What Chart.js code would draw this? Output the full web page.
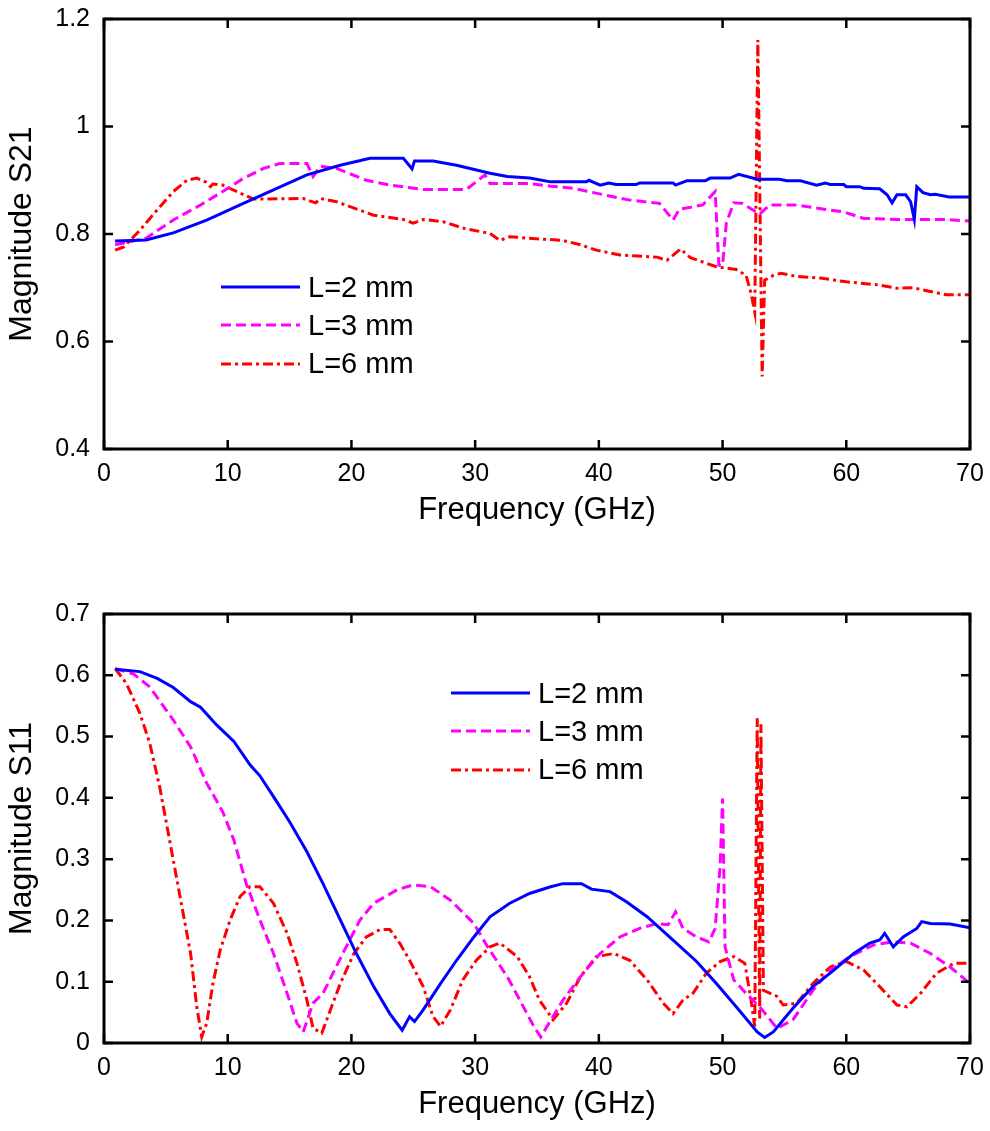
<!DOCTYPE html>
<html>
<head>
<meta charset="utf-8">
<title>Magnitude S21 / S11</title>
<script src="https://cdn.jsdelivr.net/npm/chart.js@4.4.1/dist/chart.umd.min.js"></script>
<style>
    html, body { margin:0; padding:0; background:#fff; }
    #wrap { position:relative; width:990px; height:1131px; overflow:hidden;
            font-family:"Liberation Sans", Arial, sans-serif; }
    #wrap canvas { position:absolute; left:0; }
    #s21Chart { top:0; }
    #s11Chart { top:565px; }
    .legend { position:absolute; }
    .legend-row { display:flex; align-items:center; height:38.3px; font-size:29px; color:#000; white-space:nowrap; }
    .legend-row svg { display:block; margin-right:7px; }
</style>
</head>
<body>
<div id="wrap">
    <canvas id="s21Chart" width="990" height="565"></canvas>
    <canvas id="s11Chart" width="990" height="566"></canvas>
    <div class="legend" id="s21Legend" style="left:221px; top:268px;"></div>
    <div class="legend" id="s11Legend" style="left:451px; top:674px;"></div>
</div>

<script>
// ── Data ───────────────────────────────────────────────────
const seriesLabels = ['L=2 mm', 'L=3 mm', 'L=6 mm'];

const freqTicks      = [0, 10, 20, 30, 40, 50, 60, 70];
const freqTickLabels = ['0', '10', '20', '30', '40', '50', '60', '70'];
const s21Ticks       = [0.4, 0.6, 0.8, 1.0, 1.2];
const s21TickLabels  = ['0.4', '0.6', '0.8', '1', '1.2'];
const s11Ticks       = [0, 0.1, 0.2, 0.3, 0.4, 0.5, 0.6, 0.7];
const s11TickLabels  = ['0', '0.1', '0.2', '0.3', '0.4', '0.5', '0.6', '0.7'];

// S21, L=2 mm
const s21FreqL2 = [0.9, 3.4, 5.6, 8.3, 11.0, 13.7, 16.4, 19.1, 21.5, 24.2, 24.9, 25.1, 26.6, 28.5, 31.2, 32.6,
    34.4, 36.1, 39.0, 39.2, 40.1, 40.8, 41.4, 43.0, 43.3, 46.0, 46.2, 47.1, 48.6, 49.0, 50.6, 51.3, 52.8,
    54.6, 55.2, 56.3, 57.6, 58.3, 58.7, 59.8, 60.0, 61.1, 61.4, 62.7, 63.3, 63.7, 64.1, 64.8, 65.2, 65.5,
    65.7, 66.2, 66.8, 67.2, 68.3, 70.0];
const s21MagL2 = [0.787, 0.789, 0.802, 0.826, 0.854, 0.882, 0.910, 0.928, 0.941, 0.941, 0.921, 0.936, 0.936, 0.928, 0.913, 0.907,
    0.904, 0.897, 0.897, 0.900, 0.891, 0.895, 0.892, 0.892, 0.895, 0.895, 0.891, 0.899, 0.899, 0.904, 0.904, 0.911, 0.902,
    0.902, 0.899, 0.899, 0.891, 0.895, 0.892, 0.892, 0.888, 0.888, 0.885, 0.884, 0.873, 0.858, 0.873, 0.873, 0.860, 0.827,
    0.888, 0.877, 0.873, 0.874, 0.869, 0.869];

// S21, L=3 mm
const s21FreqL3 = [0.9, 3.4, 5.6, 7.8, 9.6, 11.3, 12.9, 14.2, 16.4, 16.9, 17.5, 18.8, 21.2, 23.1, 25.8, 29.3,
    30.8, 31.2, 34.4, 36.1, 37.9, 40.4, 42.5, 44.9, 46.0, 46.5, 48.4, 49.4, 49.7, 50.0, 50.3, 50.9, 51.6,
    53.0, 53.8, 56.0, 58.2, 59.8, 61.4, 64.1, 68.1, 70.0];
const s21MagL3 = [0.780, 0.792, 0.826, 0.854, 0.879, 0.904, 0.922, 0.931, 0.931, 0.907, 0.926, 0.922, 0.900, 0.891, 0.883, 0.883,
    0.910, 0.894, 0.894, 0.889, 0.885, 0.873, 0.863, 0.857, 0.826, 0.846, 0.854, 0.879, 0.742, 0.742, 0.820, 0.858, 0.857,
    0.837, 0.854, 0.854, 0.846, 0.841, 0.829, 0.827, 0.827, 0.824];

// S21, L=6 mm
const s21FreqL6 = [0.9, 1.6, 2.9, 4.3, 5.6, 6.7, 7.5, 8.2, 8.6, 8.8, 9.6, 11.0, 12.1, 16.1, 17.1, 17.5, 18.8,
    21.8, 24.2, 25.0, 25.8, 27.4, 29.0, 31.2, 32.0, 32.8, 34.4, 37.1, 38.5, 39.8, 41.7, 44.7, 45.5, 46.6,
    47.4, 49.5, 51.1, 51.9, 52.3, 52.6, 52.85, 53.2, 53.4, 54.1, 54.7, 56.0, 57.9, 60.0, 62.7, 64.1, 65.4,
    66.8, 68.1, 70.0];
const s21MagL6 = [0.770, 0.776, 0.807, 0.845, 0.879, 0.900, 0.904, 0.897, 0.888, 0.893, 0.891, 0.876, 0.865, 0.866, 0.858, 0.866, 0.860,
    0.835, 0.827, 0.820, 0.827, 0.823, 0.811, 0.801, 0.788, 0.795, 0.792, 0.788, 0.780, 0.770, 0.761, 0.757, 0.751, 0.772,
    0.756, 0.739, 0.734, 0.723, 0.690, 0.655, 1.161, 0.535, 0.714, 0.723, 0.727, 0.721, 0.718, 0.711, 0.705, 0.699, 0.700,
    0.693, 0.687, 0.687];

// S11, L=2 mm
const s11FreqL2 = [0.9, 2.9, 4.3, 5.6, 7.0, 7.8, 9.1, 10.5, 11.8, 12.6, 13.7, 15.0, 16.4, 17.7, 19.1, 20.4,
    21.8, 23.1, 24.1, 24.7, 25.1, 25.8, 27.2, 28.5, 29.9, 31.2, 32.8, 34.4, 36.1, 37.1, 38.6, 39.4, 40.9,
    42.2, 43.9, 46.0, 47.9, 49.5, 51.1, 52.8, 53.4, 54.1, 55.7, 57.3, 58.7, 60.6, 61.9, 62.7, 63.1, 63.8,
    64.6, 65.7, 66.1, 66.8, 68.4, 70.0];
const s11MagL2 = [0.610, 0.606, 0.595, 0.580, 0.557, 0.548, 0.519, 0.492, 0.454, 0.436, 0.402, 0.361, 0.312, 0.260, 0.201, 0.146,
    0.092, 0.048, 0.021, 0.043, 0.035, 0.054, 0.097, 0.135, 0.173, 0.206, 0.228, 0.244, 0.255, 0.260, 0.260, 0.251, 0.247,
    0.231, 0.206, 0.168, 0.133, 0.097, 0.059, 0.018, 0.009, 0.018, 0.057, 0.092, 0.114, 0.146, 0.163, 0.168, 0.179, 0.157,
    0.173, 0.187, 0.198, 0.195, 0.194, 0.188];

// S11, L=3 mm
const s11FreqL3 = [0.9, 2.4, 3.7, 5.6, 7.0, 8.3, 9.6, 10.5, 11.5, 12.6, 13.7, 14.8, 15.6, 16.1, 16.9, 17.7,
    19.3, 20.7, 21.8, 23.7, 25.0, 26.4, 28.0, 29.9, 31.0, 32.6, 33.9, 34.8, 35.3, 37.1, 38.5, 40.1, 41.7,
    43.3, 44.7, 45.6, 46.2, 46.8, 47.9, 48.9, 49.4, 49.8, 50.0, 50.2, 50.9, 51.9, 53.0, 54.4, 55.7, 57.3,
    58.7, 60.3, 62.2, 63.8, 65.2, 66.8, 68.4, 70.0];
const s11MagL3 = [0.611, 0.602, 0.581, 0.527, 0.483, 0.424, 0.377, 0.331, 0.260, 0.201, 0.146, 0.081, 0.032, 0.018, 0.065, 0.081,
    0.146, 0.201, 0.228, 0.250, 0.258, 0.255, 0.233, 0.195, 0.157, 0.108, 0.059, 0.025, 0.010, 0.070, 0.108, 0.146, 0.173,
    0.187, 0.195, 0.193, 0.214, 0.187, 0.173, 0.165, 0.187, 0.288, 0.399, 0.157, 0.103, 0.081, 0.059, 0.024, 0.038, 0.086,
    0.119, 0.141, 0.160, 0.165, 0.163, 0.146, 0.124, 0.097];

// S11, L=6 mm
const s11FreqL6 = [0.9, 1.8, 2.9, 3.7, 4.5, 5.3, 6.1, 7.0, 7.5, 7.9, 8.3, 8.8, 9.4, 10.2, 11.0, 11.8, 12.6,
    13.7, 14.8, 15.6, 16.4, 16.9, 17.6, 18.3, 19.1, 20.2, 21.2, 22.3, 23.1, 23.9, 24.7, 25.8, 26.6, 27.2,
    28.0, 29.0, 30.1, 31.2, 32.0, 33.4, 34.4, 35.2, 36.3, 37.4, 38.5, 39.8, 41.2, 42.5, 43.9, 45.2, 46.0,
    46.8, 47.6, 48.7, 49.8, 50.9, 51.8, 52.3, 52.6, 52.8, 53.0, 53.1, 53.3, 54.4, 54.9, 56.0, 57.3, 58.7,
    60.0, 61.4, 62.7, 64.1, 64.9, 66.0, 67.3, 68.7, 70.0];
const s11MagL6 = [0.611, 0.587, 0.538, 0.489, 0.418, 0.331, 0.244, 0.146, 0.059, 0.010, 0.032, 0.097, 0.152, 0.201, 0.239, 0.255, 0.255,
    0.228, 0.179, 0.130, 0.070, 0.024, 0.016, 0.054, 0.097, 0.146, 0.173, 0.185, 0.185, 0.163, 0.135, 0.092, 0.043, 0.027,
    0.054, 0.103, 0.135, 0.157, 0.163, 0.141, 0.108, 0.070, 0.038, 0.065, 0.108, 0.141, 0.146, 0.135, 0.103, 0.065, 0.048,
    0.070, 0.081, 0.114, 0.133, 0.141, 0.130, 0.070, 0.027, 0.530, 0.040, 0.520, 0.086, 0.076, 0.062, 0.065, 0.097, 0.124,
    0.133, 0.119, 0.092, 0.062, 0.059, 0.081, 0.114, 0.130, 0.130];

// ── Styles ─────────────────────────────────────────────────
const FONT = "'Liberation Sans', Arial, sans-serif";
const lineStyles = [
    { color: '#0000ff', dash: [] },
    { color: '#ff00ff', dash: [10, 5] },
    { color: '#ff0000', dash: [10, 4, 3, 4] }
];
const TICK_LEN = 9;

Chart.defaults.font.family = FONT;
Chart.defaults.color = '#000';

const toPoints = (xs, ys) => xs.map((x, i) => ({ x, y: ys[i] }));

// inward MATLAB-style ticks + box
const matlabFrame = {
    id: 'matlabFrame',
    afterDatasetsDraw(chart) {
        const { ctx, chartArea: a, scales: { x, y } } = chart;
        ctx.save();
        ctx.strokeStyle = '#000';
        ctx.lineWidth = 2.5;
        ctx.beginPath();
        x.ticks.forEach(t => {
            const px = x.getPixelForValue(t.value);
            ctx.moveTo(px, a.bottom); ctx.lineTo(px, a.bottom - TICK_LEN);
            ctx.moveTo(px, a.top);    ctx.lineTo(px, a.top + TICK_LEN);
        });
        y.ticks.forEach(t => {
            const py = y.getPixelForValue(t.value);
            ctx.moveTo(a.left, py);  ctx.lineTo(a.left + TICK_LEN, py);
            ctx.moveTo(a.right, py); ctx.lineTo(a.right - TICK_LEN, py);
        });
        ctx.stroke();
        ctx.lineWidth = 3;
        ctx.strokeRect(a.left, a.top, a.right - a.left, a.bottom - a.top);
        ctx.restore();
    }
};

// ── Chart builder ──────────────────────────────────────────
function drawPanel(canvasId, series, yTicks, yTickLabels, yTitle, box) {
    return new Chart(document.getElementById(canvasId), {
        type: 'line',
        data: {
            datasets: series.map((s, i) => ({
                label: seriesLabels[i],
                data: s,
                borderColor: lineStyles[i].color,
                borderDash: lineStyles[i].dash,
                borderWidth: 3,
                pointRadius: 0,
                tension: 0,
                fill: false
            }))
        },
        options: {
            responsive: false,
            animation: false,
            devicePixelRatio: 1,
            layout: { padding: { top: box.top, right: 20, left: 0, bottom: 0 } },
            plugins: { legend: { display: false }, tooltip: { enabled: false } },
            scales: {
                x: {
                    type: 'linear',
                    min: freqTicks[0], max: freqTicks[freqTicks.length - 1],
                    grid: { display: false, drawTicks: false },
                    border: { display: false },
                    afterBuildTicks: sc => { sc.ticks = freqTicks.map(v => ({ value: v })); },
                    afterFit: sc => {
                        sc.height = box.xAxisH;
                        sc.paddingLeft = 0; sc.paddingRight = 0;
                    },
                    ticks: {
                        padding: 10,
                        maxRotation: 0,
                        font: { size: 25 },
                        callback: (v, i) => freqTickLabels[i]
                    },
                    title: {
                        display: true,
                        text: 'Frequency (GHz)',
                        font: { size: 31 },
                        padding: { top: 0, bottom: box.xTitlePad }
                    }
                },
                y: {
                    type: 'linear',
                    min: yTicks[0], max: yTicks[yTicks.length - 1],
                    grid: { display: false, drawTicks: false },
                    border: { display: false },
                    afterBuildTicks: sc => { sc.ticks = yTicks.map(v => ({ value: v })); },
                    afterFit: sc => {
                        sc.width = 104;
                        sc.paddingTop = 0; sc.paddingBottom = 0;
                    },
                    ticks: {
                        padding: 14,
                        font: { size: 25 },
                        callback: (v, i) => yTickLabels[i]
                    },
                    title: {
                        display: true,
                        text: yTitle,
                        font: { size: 32 },
                        padding: { top: 3, bottom: 0 }
                    }
                }
            }
        },
        plugins: [matlabFrame]
    });
}

// ── Legend ─────────────────────────────────────────────────
function drawLegend(elId) {
    document.getElementById(elId).innerHTML = seriesLabels.map((label, i) => `
        <div class="legend-row">
            <svg width="80" height="6">
                <line x1="0" y1="3" x2="79" y2="3" stroke="${lineStyles[i].color}" stroke-width="3"
                      stroke-dasharray="${lineStyles[i].dash.join(' ') || 'none'}"/>
            </svg>
            <span>${label}</span>
        </div>
    `).join('');
}

// ── Init ───────────────────────────────────────────────────
drawPanel('s21Chart', [
    toPoints(s21FreqL2, s21MagL2),
    toPoints(s21FreqL3, s21MagL3),
    toPoints(s21FreqL6, s21MagL6)
], s21Ticks, s21TickLabels, 'Magnitude S21', { top: 19, xAxisH: 116, xTitlePad: 36 });

drawPanel('s11Chart', [
    toPoints(s11FreqL2, s11MagL2),
    toPoints(s11FreqL3, s11MagL3),
    toPoints(s11FreqL6, s11MagL6)
], s11Ticks, s11TickLabels, 'Magnitude S11', { top: 49, xAxisH: 88, xTitlePad: 8 });

drawLegend('s21Legend');
drawLegend('s11Legend');
</script>
</body>
</html>
